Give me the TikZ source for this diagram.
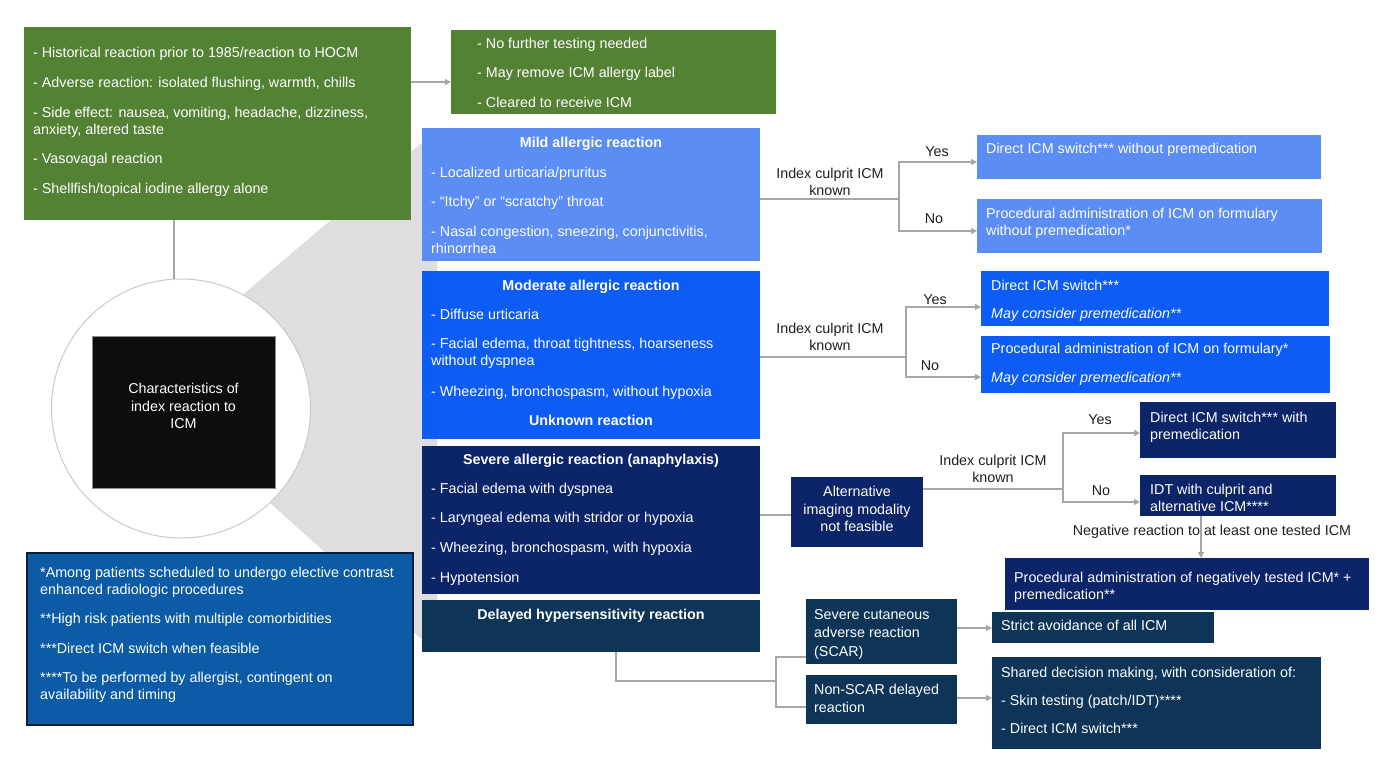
\documentclass[tikz,border=0pt]{standalone}
\usepackage{fontspec}
\setmainfont{Liberation Sans}
\usetikzlibrary{arrows.meta}
\definecolor{cgreen}{HTML}{548235}
\definecolor{cmild}{HTML}{5B8DF5}
\definecolor{cmod}{HTML}{0D5CF5}
\definecolor{csev}{HTML}{0C2468}
\definecolor{cdel}{HTML}{0E3457}
\definecolor{cfoot}{HTML}{0B5BA6}
\definecolor{cfootb}{HTML}{0A1C3F}
\definecolor{lgrey}{HTML}{A6A6A6}
\definecolor{fgrey}{HTML}{DEDEDE}
\definecolor{cgreyc}{HTML}{CACACA}
\newcommand\myfs{\fontsize{14.3}{17.5}\selectfont}
\begin{document}
\begin{tikzpicture}[x=1pt,y=-1pt,
 bx/.style={inner sep=0pt,outer sep=0pt,anchor=north west,draw=none},
 tx/.style={anchor=base west,inner sep=0pt,text=white,align=left,font=\myfs},
 hd/.style={anchor=base,inner sep=0pt,text=white,font=\myfs\bfseries},
 lb/.style={inner sep=0pt,text=black!88,align=center,font=\myfs},
 ln/.style={draw=lgrey,line width=1.5pt},
 ar/.style={ln,-{Triangle[length=6pt,width=6pt]}},
]
\useasboundingbox (0,0) rectangle (1379,758);
\fill[white] (0,0) rectangle (1379,758);

% funnel and circle
\fill[fgrey] (200,331) -- (437,130) -- (437,653) -- (200,440) -- cycle;
\node[circle,minimum size=259pt,inner sep=0pt,fill=white,draw=cgreyc,line width=1pt] (circ) at (181,408.5) {};
\node[bx,fill=black!95,draw=black!45,line width=0.8pt,minimum width=183pt,minimum height=152pt] (blk) at (92,336) {};
\node[lb,text=white] (blkt) at (183.5,406) {Characteristics of\\index reaction to\\ICM};

% left green box
\node[bx,fill=cgreen,minimum width=387pt,minimum height=193pt] (greenL) at (24,27) {};
\node[tx] (g1) at (33,57) {- Historical reaction prior to 1985/reaction to HOCM};
\node[tx] (g2) at (33,87) {- Adverse reaction: isolated flushing, warmth, chills};
\node[tx] (g3) at (33,134.5) {- Side effect: nausea, vomiting, headache, dizziness,\\anxiety, altered taste};
\node[tx] (g4) at (33,163) {- Vasovagal reaction};
\node[tx] (g5) at (33,193) {- Shellfish/topical iodine allergy alone};

% right green box
\node[bx,fill=cgreen,minimum width=325pt,minimum height=84pt] (greenR) at (451,30) {};
\node[tx] (gr1) at (477,48) {- No further testing needed};
\node[tx] (gr2) at (477,77) {- May remove ICM allergy label};
\node[tx] (gr3) at (477,107) {- Cleared to receive ICM};

% mild
\node[bx,fill=cmild,minimum width=338pt,minimum height=133pt] (mild) at (422,128) {};
\node[hd] (mildh) at (591,147) {Mild allergic reaction};
\node[tx] (m1) at (431,177) {- Localized urticaria/pruritus};
\node[tx] (m2) at (431,206) {- “Itchy” or “scratchy” throat};
\node[tx] (m3) at (431,253.5) {- Nasal congestion, sneezing, conjunctivitis,\\rhinorrhea};

% moderate
\node[bx,fill=cmod,minimum width=338pt,minimum height=168pt] (mod) at (422,271) {};
\node[hd] (modh) at (591,290) {Moderate allergic reaction};
\node[tx] (o1) at (431,319) {- Diffuse urticaria};
\node[tx] (o2) at (431,365.5) {- Facial edema, throat tightness, hoarseness\\without dyspnea};
\node[tx] (o3) at (431,396) {- Wheezing, bronchospasm, without hypoxia};
\node[hd] (unk) at (591,425) {Unknown reaction};

% severe
\node[bx,fill=csev,minimum width=338pt,minimum height=148pt] (sev) at (422,446) {};
\node[hd] (sevh) at (591,464) {Severe allergic reaction (anaphylaxis)};
\node[tx] (s1) at (431,493) {- Facial edema with dyspnea};
\node[tx] (s2) at (431,522) {- Laryngeal edema with stridor or hypoxia};
\node[tx] (s3) at (431,552) {- Wheezing, bronchospasm, with hypoxia};
\node[tx] (s4) at (431,582) {- Hypotension};

% delayed
\node[bx,fill=cdel,minimum width=338pt,minimum height=52pt] (del) at (422,600) {};
\node[hd] (delh) at (591,619) {Delayed hypersensitivity reaction};

% footnotes
\node[bx,fill=cfoot,draw=cfootb,line width=2pt,minimum width=386pt,minimum height=172pt] (foot) at (27,553) {};
\node[tx] (f1) at (40,594.5) {*Among patients scheduled to undergo elective contrast\\enhanced radiologic procedures};
\node[tx] (f2) at (40,623) {**High risk patients with multiple comorbidities};
\node[tx] (f3) at (40,653) {***Direct ICM switch when feasible};
\node[tx] (f4) at (40,699.5) {****To be performed by allergist, contingent on\\availability and timing};

% mild results
\node[bx,fill=cmild,minimum width=344pt,minimum height=44pt] (r1) at (977,135) {};
\node[tx] (r1t) at (986,153) {Direct ICM switch*** without premedication};
\node[bx,fill=cmild,minimum width=345pt,minimum height=54pt] (r2) at (977,199) {};
\node[tx] (r2t) at (986,235.5) {Procedural administration of ICM on formulary\\without premedication*};

% moderate results
\node[bx,fill=cmod,minimum width=348pt,minimum height=55pt] (r3) at (981,271) {};
\node[tx] (r3a) at (991,290) {Direct ICM switch***};
\node[tx,font=\myfs\itshape] (r3b) at (991,318) {May consider premedication**};
\node[bx,fill=cmod,minimum width=349pt,minimum height=57pt] (r4) at (981,336) {};
\node[tx] (r4a) at (991,353) {Procedural administration of ICM on formulary*};
\node[tx,font=\myfs\itshape] (r4b) at (991,382) {May consider premedication**};

% severe results
\node[bx,fill=csev,minimum width=132pt,minimum height=70pt] (alt) at (791,477) {};
\node[lb,text=white] (altt) at (857,509) {Alternative\\imaging modality\\not feasible};
\node[bx,fill=csev,minimum width=196pt,minimum height=56pt] (r5) at (1140,402) {};
\node[tx] (r5t) at (1150,439.5) {Direct ICM switch*** with\\premedication};
\node[bx,fill=csev,minimum width=196pt,minimum height=41pt] (r6) at (1140,475) {};
\node[tx] (r6t) at (1150,511.5) {IDT with culprit and\\alternative ICM****};
\node[bx,fill=csev,minimum width=364pt,minimum height=52pt] (r7) at (1005,558) {};
\node[tx] (r7t) at (1014,599.5) {Procedural administration of negatively tested ICM* +\\premedication**};

% delayed results
\node[bx,fill=cdel,minimum width=151pt,minimum height=65pt] (scar) at (806,599) {};
\node[tx,font=\fontsize{14.3}{18.5}\selectfont] (scart) at (814,656) {Severe cutaneous\\adverse reaction\\(SCAR)};
\node[bx,fill=cdel,minimum width=151pt,minimum height=49pt] (nscar) at (806,675) {};
\node[tx,font=\fontsize{14.3}{18.5}\selectfont] (nscart) at (814,712.5) {Non-SCAR delayed\\reaction};
\node[bx,fill=cdel,minimum width=222pt,minimum height=31pt] (strict) at (992,612) {};
\node[tx] (strictt) at (1001,630) {Strict avoidance of all ICM};
\node[bx,fill=cdel,minimum width=329pt,minimum height=92pt] (shared) at (992,657) {};
\node[tx] (sh1) at (1001,677) {Shared decision making, with consideration of:};
\node[tx] (sh2) at (1001,705) {- Skin testing (patch/IDT)****};
\node[tx] (sh3) at (1001,733) {- Direct ICM switch***};

% labels
\node[lb] (lm) at (830,182) {Index culprit ICM\\known};
\node[lb] (lo) at (830,337) {Index culprit ICM\\known};
\node[lb] (ls) at (993,469) {Index culprit ICM\\known};
\node[lb] (ym) at (937,152) {Yes};
\node[lb] (nm) at (934,219) {No};
\node[lb] (yo) at (935,300) {Yes};
\node[lb] (no) at (930,366) {No};
\node[lb] (ys) at (1100,420) {Yes};
\node[lb] (ns) at (1101,491) {No};

% connectors
\coordinate (gx) at (174,250);
\draw[ln] (gx |- greenL.south) -- (gx |- circ.north);
\coordinate (ga) at (430,82);
\draw[ar] (ga -| greenL.east) -- (ga -| greenR.west);

\coordinate (mj) at (899,199);
\coordinate (myes) at (899,162);
\coordinate (mno) at (899,231);
\draw[ln] (mj -| mild.east) -- (mj);
\draw[ar] (mj) -- (myes) -- (myes -| r1.west);
\draw[ar] (mj) -- (mno) -- (mno -| r2.west);

\coordinate (oj) at (906,357);
\coordinate (oyes) at (906,307);
\coordinate (ono) at (906,377);
\draw[ln] (oj -| mod.east) -- (oj);
\draw[ar] (oj) -- (oyes) -- (oyes -| r3.west);
\draw[ar] (oj) -- (ono) -- (ono -| r4.west);

\coordinate (sa0) at (775,515);
\draw[ln] (sa0 -| sev.east) -- (sa0 -| alt.west);
\coordinate (sj) at (1063,489);
\coordinate (syes) at (1063,433);
\coordinate (sno) at (1063,502);
\draw[ln] (sj -| alt.east) -- (sj);
\draw[ar] (sj) -- (syes) -- (syes -| r5.west);
\draw[ar] (sj) -- (sno) -- (sno -| r6.west);
\coordinate (ng) at (1201,530);
\draw[ar] (ng |- r6.south) -- (ng |- r7.north);
\node[lb] (negl) at (1212,532) {Negative reaction to at least one tested ICM};

\coordinate (dj) at (616,681);
\coordinate (dk) at (776,681);
\coordinate (dtop) at (776,657);
\coordinate (dbot) at (776,707);
\draw[ln] (dj |- del.south) -- (dj) -- (dk);
\draw[ln] (dtop -| scar.west) -- (dtop) -- (dbot) -- (dbot -| nscar.west);
\coordinate (sca) at (970,628);
\draw[ar] (sca -| scar.east) -- (sca -| strict.west);
\coordinate (nsa) at (970,698);
\draw[ar] (nsa -| nscar.east) -- (nsa -| shared.west);
\end{tikzpicture}
\end{document}
